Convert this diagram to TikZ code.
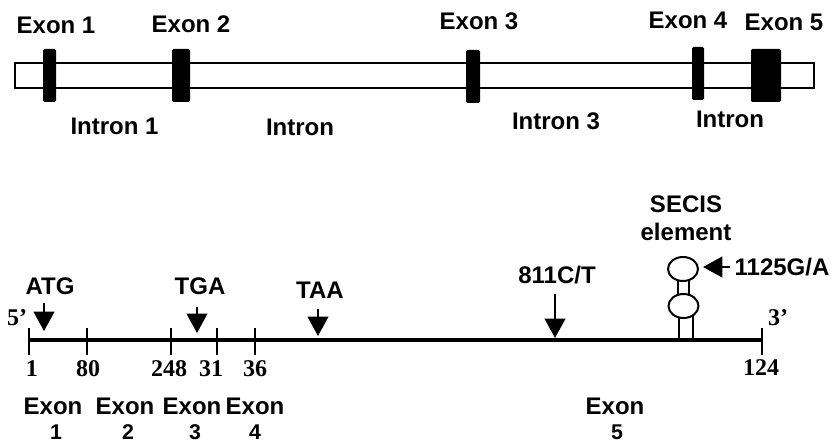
\documentclass[tikz,border=0pt]{standalone}
\usepackage{fontspec}
\setmainfont{Liberation Sans}
\newfontfamily\numfont{Liberation Serif}
\usetikzlibrary{arrows.meta,shapes.geometric}
\tikzset{
  lab/.style={font=\fontsize{18}{20}\selectfont\bfseries,inner sep=0pt,text=black},
  digit/.style={font=\fontsize{16}{18}\selectfont\bfseries,inner sep=0pt,text=black},
  num/.style={font=\fontsize{18}{20}\selectfont\numfont\bfseries,inner sep=0pt,text=black},
  exonbar/.style={fill=black,draw=none,rounded corners=1pt,inner sep=0pt,minimum height={53*0.75pt}},
  geneband/.style={draw=black,line width=1.2pt,fill=white,inner sep=0pt,minimum width={799*0.75pt},minimum height={25*0.75pt}},
  baseline/.style={line width=3pt},
  tick/.style={line width=1.6pt},
  pointer/.style={line width=1.5pt,-{Triangle[length=14.5pt,width=15.5pt]}},
  loopnode/.style={draw=black,line width=1.5pt,fill=white,ellipse,inner sep=0pt,minimum width={30*0.75pt},minimum height={24*0.75pt}},
  stem/.style={line width=1.5pt}
}
\begin{document}
\begin{tikzpicture}[x=0.75pt,y=-0.75pt]
\useasboundingbox (0,0) rectangle (833,442);
% gene band
\node[geneband] (band) at (414.5,75.5) {};
\node[exonbar,minimum width={13*0.75pt}] (e1) at (49.5,75.5) {};
\node[exonbar,minimum width={18*0.75pt}] (e2) at (181,75.5) {};
\node[exonbar,minimum width={14*0.75pt}] (e3) at (473,76.5) {};
\node[exonbar,minimum width={12*0.75pt}] (e4) at (698,73.5) {};
\node[exonbar,minimum width={30*0.75pt}] (e5) at (766,75.5) {};
\node[lab] (t1) at (56,25) {Exon 1};
\node[lab] (t2) at (191,24) {Exon 2};
\node[lab] (t3) at (479,21) {Exon 3};
\node[lab] (t4) at (688,20) {Exon 4};
\node[lab] (t5) at (784,22) {Exon 5};
\node[lab] (i1) at (114.5,126) {Intron 1};
\node[lab] (i2) at (300,127) {Intron};
\node[lab] (i3) at (556,121) {Intron 3};
\node[lab] (i4) at (730,119) {Intron};
% transcript line
\coordinate (L) at (29,340);
\coordinate (R) at (762,340);
\draw[baseline] (L) -- (R);
\foreach \n/\x in {a/29,b/87,c/171,d/217,e/255,f/762}{
  \coordinate (\n top) at (\x,328);
  \coordinate (\n bot) at (\x,355);
  \draw[tick] (\n top) -- (\n bot);
}
\node[num] (five) at (17,318) {5’};
\node[num] (three) at (778,318) {3’};
\node[num] (n1) at (32,369) {1};
\node[num] (n2) at (88,369) {80};
\node[num] (n3) at (169,369) {248};
\node[num] (n4) at (211,369) {31};
\node[num] (n5) at (255,369) {36};
\node[num] (n6) at (761,368) {124};
% sites
\node[lab] (atg) at (50,286) {ATG};
\node[lab] (tga) at (200,286) {TGA};
\node[lab] (taa) at (320,290) {TAA};
\node[lab] (snp) at (557,275) {811C/T};
\node[lab] (gasnp) at (782,267) {1125G/A};
\node[lab] (secis) at (686,204) {SECIS};
\node[lab] (elem) at (686,232) {element};
\coordinate (atgS) at (44,303); \coordinate (atgT) at (44,331);
\coordinate (tgaS) at (197,307); \coordinate (tgaT) at (197,333);
\coordinate (taaS) at (318,309); \coordinate (taaT) at (318,336);
\coordinate (snpS) at (555,294); \coordinate (snpT) at (555,338);
\coordinate (gaS) at (730,267); \coordinate (gaT) at (703,267);
\draw[pointer] (atgS) -- (atgT);
\draw[pointer] (tgaS) -- (tgaT);
\draw[pointer] (taaS) -- (taaT);
\draw[pointer] (snpS) -- (snpT);
\draw[pointer] (gaS) -- (gaT);
% SECIS hairpin
\draw[stem] (678.5,338) -- (678.5,316) (692.5,338) -- (692.5,316);
\draw[stem] (678,295) -- (678,279) (689,295) -- (689,279);
\node[loopnode] (loopA) at (683,269) {};
\node[loopnode] (loopB) at (683.5,306) {};
% exon captions
\node[lab] (x1) at (53,406) {Exon};
\node[lab] (x2) at (125,406) {Exon};
\node[lab] (x3) at (192,406) {Exon};
\node[lab] (x4) at (255,406) {Exon};
\node[lab] (x5) at (615,406) {Exon};
\node[digit] (y1) at (56,432) {1};
\node[digit] (y2) at (128,432) {2};
\node[digit] (y3) at (195,432) {3};
\node[digit] (y4) at (255,432) {4};
\node[digit] (y5) at (617,432) {5};
\end{tikzpicture}
\end{document}
